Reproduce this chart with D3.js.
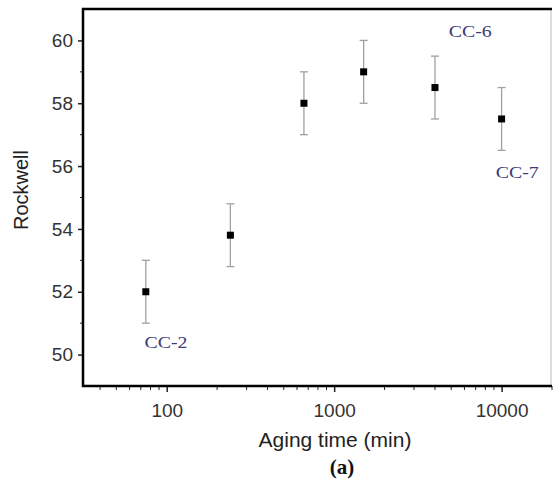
<!DOCTYPE html>
<html lang="en">
<head>
    <meta charset="UTF-8">
    <title>Rockwell vs aging time</title>
    <style>
        body, html {
            margin: 0;
            padding: 0;
            background: #fff;
            overflow: hidden;
        }
        .tick text {
            font-family: "Liberation Sans", Arial, sans-serif;
            font-size: 19px;
            fill: #333;
        }
        .note {
            font-family: "Liberation Serif", "Times New Roman", serif;
            font-size: 17px;
            fill: #3b3b78;
        }
    </style>
    <script src="https://d3js.org/d3.v7.min.js"></script>
</head>
<body>
    <div id="chart"></div>

    <script>
        // data
        const agingTime = [75, 240, 660, 1500, 4000, 10000];
        const hardness = [52.0, 53.8, 58.0, 59.0, 58.5, 57.5];
        const errLow = [51.0, 52.8, 57.0, 58.0, 57.5, 56.5];
        const errHigh = [53.0, 54.8, 59.0, 60.0, 59.5, 58.5];

        const yTicks = [50, 52, 54, 56, 58, 60];
        const xTicks = [100, 1000, 10000];

        const notes = [
            { text: "CC-2", t: 99, v: 50.4 },
            { text: "CC-6", t: 6500, v: 60.3 },
            { text: "CC-7", t: 12400, v: 55.8 }
        ];

        const width = 554, height = 485;
        const margin = { top: 9, right: 2, bottom: 99, left: 83 };

        const svg = d3.select("#chart")
            .append("svg")
            .attr("width", width)
            .attr("height", height);

        const x = d3.scaleLog()
            .domain([Math.pow(10, 1.5), 20000])
            .range([margin.left, width - margin.right]);

        const y = d3.scaleLinear()
            .domain([49, 61])
            .range([height - margin.bottom, margin.top]);

        const x0 = margin.left, x1 = width - margin.right;
        const y0 = height - margin.bottom, y1 = margin.top;

        // right border, light
        svg.append("line")
            .attr("x1", x1 - 1).attr("x2", x1 - 1)
            .attr("y1", y1).attr("y2", y0)
            .attr("stroke", "#bbb").attr("stroke-width", 1);

        // minor x ticks
        const minorX = [];
        for (let d = 10; d <= 10000; d *= 10) {
            for (let k = 2; k <= 9; k++) {
                const v = d * k;
                if (v >= x.domain()[0] && v <= x.domain()[1]) minorX.push(v);
            }
        }
        svg.append("g").selectAll("line")
            .data(minorX)
            .enter().append("line")
            .attr("x1", d => x(d)).attr("x2", d => x(d))
            .attr("y1", y0).attr("y2", y0 + 4)
            .attr("stroke", "#222").attr("stroke-width", 1);

        // minor y ticks
        svg.append("g").selectAll("line")
            .data([51, 53, 55, 57, 59])
            .enter().append("line")
            .attr("x1", x0 - 3).attr("x2", x0)
            .attr("y1", d => y(d)).attr("y2", d => y(d))
            .attr("stroke", "#222").attr("stroke-width", 1);

        const xAxis = svg.append("g")
            .attr("transform", `translate(0,${y0})`)
            .call(d3.axisBottom(x).tickValues(xTicks).tickFormat(d3.format("d")).tickSize(6).tickPadding(12));
        xAxis.select(".domain").remove();
        xAxis.selectAll(".tick line").attr("stroke", "#222").attr("stroke-width", 1.5);

        const yAxis = svg.append("g")
            .attr("transform", `translate(${x0},0)`)
            .call(d3.axisLeft(y).tickValues(yTicks).tickSize(5).tickPadding(5));
        yAxis.select(".domain").remove();
        yAxis.selectAll(".tick line").attr("stroke", "#222").attr("stroke-width", 1.5);

        // frame: left, bottom, top
        svg.append("path")
            .attr("d", `M${x1},${y1}H${x0}V${y0}H${x1}`)
            .attr("fill", "none")
            .attr("stroke", "#000")
            .attr("stroke-width", 2.5);

        // error bars
        const idx = d3.range(agingTime.length);
        const bars = svg.append("g").attr("stroke", "#a0a0a0").attr("stroke-width", 1.3);
        bars.selectAll(".stem").data(idx).enter().append("line")
            .attr("x1", i => x(agingTime[i])).attr("x2", i => x(agingTime[i]))
            .attr("y1", i => y(errLow[i])).attr("y2", i => y(errHigh[i]));
        bars.selectAll(".capT").data(idx).enter().append("line")
            .attr("x1", i => x(agingTime[i]) - 4).attr("x2", i => x(agingTime[i]) + 4)
            .attr("y1", i => y(errHigh[i])).attr("y2", i => y(errHigh[i]));
        bars.selectAll(".capB").data(idx).enter().append("line")
            .attr("x1", i => x(agingTime[i]) - 4).attr("x2", i => x(agingTime[i]) + 4)
            .attr("y1", i => y(errLow[i])).attr("y2", i => y(errLow[i]));

        // markers
        svg.append("g").selectAll("rect")
            .data(idx)
            .enter().append("rect")
            .attr("x", i => x(agingTime[i]) - 3.5)
            .attr("y", i => y(hardness[i]) - 3.5)
            .attr("width", 7).attr("height", 7)
            .attr("fill", "#000");

        // sample labels (wide serif in the original)
        svg.append("g").selectAll("text")
            .data(notes)
            .enter().append("text")
            .attr("class", "note")
            .attr("x", d => x(d.t))
            .attr("y", d => y(d.v))
            .attr("dy", "0.35em")
            .attr("text-anchor", "middle")
            .attr("textLength", 43)
            .attr("lengthAdjust", "spacingAndGlyphs")
            .text(d => d.text);

        // axis titles
        svg.append("text")
            .attr("transform", `translate(21,190) rotate(-90)`)
            .attr("text-anchor", "middle")
            .attr("dy", "0.35em")
            .style("font-family", "Liberation Sans, Arial, sans-serif")
            .style("font-size", "20px")
            .style("fill", "#222")
            .text("Rockwell");

        svg.append("text")
            .attr("x", 335).attr("y", 447)
            .attr("text-anchor", "middle")
            .style("font-family", "Liberation Sans, Arial, sans-serif")
            .style("font-size", "21px")
            .style("fill", "#222")
            .text("Aging time (min)");

        svg.append("text")
            .attr("x", 342).attr("y", 474)
            .attr("text-anchor", "middle")
            .style("font-family", "Liberation Serif, Times New Roman, serif")
            .style("font-size", "21px")
            .style("font-weight", "bold")
            .style("fill", "#111")
            .text("(a)");
    </script>
</body>
</html>
